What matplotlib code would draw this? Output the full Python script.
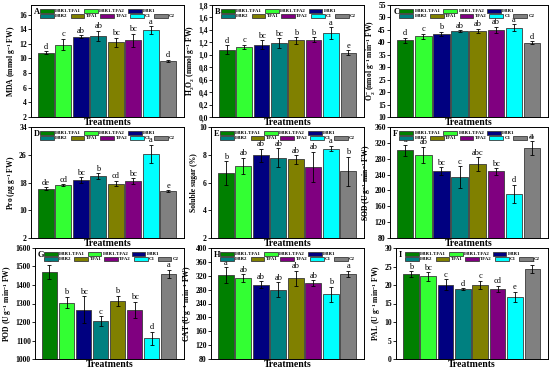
import numpy as np
import matplotlib
matplotlib.use('Agg')
import matplotlib.pyplot as plt

plt.rcParams['font.family'] = 'Liberation Serif'
plt.rcParams['font.weight'] = 'bold'
plt.rcParams['axes.labelweight'] = 'bold'
plt.rcParams['mathtext.fontset'] = 'custom'
plt.rcParams['mathtext.rm'] = 'Liberation Serif:bold'
plt.rcParams['mathtext.it'] = 'Liberation Serif:italic:bold'
plt.rcParams['mathtext.bf'] = 'Liberation Serif:bold'

treatments = ['EBR1-TFA1', 'EBR1-TFA2', 'EBR1', 'EBR2', 'TFA1', 'TFA2', 'C1', 'C2']
colors = ['#008000', '#33ff33', '#000080', '#008080', '#808000', '#800080', '#00ffff', '#808080']

# panel data: mean, error, letters
mda = [10.8, 11.9, 12.95, 13.1, 12.2, 12.5, 13.9, 9.65]
mda_err = [0.15, 0.8, 0.2, 0.7, 0.65, 0.9, 0.5, 0.15]
mda_sig = ['d', 'c', 'ab', 'ab', 'bc', 'bc', 'a', 'd']

h2o2 = [1.08, 1.13, 1.16, 1.19, 1.23, 1.24, 1.35, 1.035]
h2o2_err = [0.075, 0.035, 0.075, 0.08, 0.05, 0.04, 0.095, 0.04]
h2o2_sig = ['d', 'c', 'bc', 'bc', 'b', 'b', 'a', 'e']

o2 = [40.9, 42.4, 43.4, 44.5, 44.6, 44.9, 45.8, 39.9]
o2_err = [1.0, 1.1, 0.8, 0.3, 0.8, 1.3, 1.4, 0.5]
o2_sig = ['d', 'c', 'b', 'ab', 'ab', 'ab', 'a', 'd']

pro = [16.2, 17.2, 18.7, 19.9, 17.7, 18.5, 26.3, 15.6]
pro_err = [0.4, 0.3, 0.9, 0.8, 0.8, 0.8, 2.6, 0.2]
pro_sig = ['de', 'cd', 'bc', 'b', 'cd', 'bc', 'a', 'e']

sugar = [6.67, 7.18, 7.97, 7.78, 7.66, 7.13, 8.45, 6.8]
sugar_err = [0.85, 0.6, 0.47, 0.68, 0.3, 1.1, 0.2, 1.05]
sugar_sig = ['b', 'ab', 'ab', 'ab', 'ab', 'ab', 'a', 'b']

sod = [301, 289, 249, 233, 266, 248, 191, 307]
sod_err = [14, 21, 9, 28, 18, 8, 23, 18]
sod_sig = ['a', 'ab', 'bc', 'c', 'abc', 'bc', 'd', 'a']

pod = [1471, 1305, 1267, 1204, 1314, 1265, 1113, 1460]
pod_err = [38, 32, 72, 28, 28, 45, 35, 22]
pod_sig = ['a', 'b', 'bc', 'c', 'b', 'bc', 'd', 'a']

cat = [322, 313, 294, 280, 313, 299, 266, 326]
cat_err = [23, 11, 10, 21, 22, 8, 22, 9]
cat_sig = ['a', 'ab', 'ab', 'ab', 'ab', 'ab', 'b', 'a']

pal = [22.9, 22.3, 20.1, 18.9, 20.0, 19.0, 16.8, 24.4]
pal_err = [0.8, 1.2, 1.5, 0.3, 1.2, 0.8, 1.4, 1.1]
pal_sig = ['b', 'bc', 'c', 'd', 'c', 'cd', 'e', 'a']

panels = [
    ('A', mda, mda_err, mda_sig, r'MDA (mmol g$^{-1}$ FW)', (2, 17.3), np.arange(2, 17, 2), '%d'),
    ('B', h2o2, h2o2_err, h2o2_sig, r'H$_2$O$_2$ (mmol g$^{-1}$ FW)', (0, 1.8), np.arange(0, 1.81, 0.2), 'comma'),
    ('C', o2, o2_err, o2_sig, r'O$_2^{-}$ (nmol g$^{-1}$ min$^{-1}$ FW)', (10, 55), np.arange(10, 56, 5), '%d'),
    ('D', pro, pro_err, pro_sig, r'Pro ($\mu$g g$^{-1}$ FW)', (2, 34), np.arange(2, 35, 8), '%d'),
    ('E', sugar, sugar_err, sugar_sig, 'Soluble sugar (%)', (2, 10), np.arange(2, 11, 2), '%d'),
    ('F', sod, sod_err, sod_sig, r'SOD (U g$^{-1}$ min$^{-1}$ FW)', (80, 360), np.arange(80, 361, 40), '%d'),
    ('G', pod, pod_err, pod_sig, r'POD (U g$^{-1}$ min$^{-1}$ FW)', (1000, 1600), np.arange(1000, 1601, 100), '%d'),
    ('H', cat, cat_err, cat_sig, r'CAT (U g$^{-1}$ min$^{-1}$ FW)', (80, 400), np.arange(80, 401, 40), '%d'),
    ('I', pal, pal_err, pal_sig, r'PAL (U g$^{-1}$ min$^{-1}$ FW)', (0, 30), np.arange(0, 31, 5), '%d'),
]

W, H = 550, 371
fig = plt.figure(figsize=(5.5, 3.71), dpi=100)
lefts = [[31, 212, 390], [31, 211, 390], [35, 211, 396]]
rights = [184, 364, 548]
tops = [5, 127, 248]
bottoms = [117, 238, 359]

x = np.arange(len(treatments))
for k, (tag, vals, errs, sig, ylab, ylim, yt, fmt) in enumerate(panels):
    r, c = divmod(k, 3)
    L = lefts[r][c]
    ax = fig.add_axes([L / W, 1 - bottoms[r] / H,
                       (rights[c] - L) / W, (bottoms[r] - tops[r]) / H])
    bars = ax.bar(x, vals, width=0.9, color=colors, edgecolor='#3a3a3a', linewidth=0.6)
    ax.errorbar(x, vals, yerr=errs, fmt='none', ecolor='black', elinewidth=0.6,
                capsize=1.2, capthick=0.6)
    for xi, v, e, s in zip(x, vals, errs, sig):
        ax.annotate(s, (xi, v + e), xytext=(0, 0.3), textcoords='offset points',
                    ha='center', va='bottom', fontsize=6, fontweight='normal')
    ax.set_xlim(-0.85, 7.9)
    ax.set_ylim(*ylim)
    ax.set_yticks(yt)
    if fmt == 'comma':
        ax.set_yticklabels([('%.1f' % t).replace('.', ',') for t in yt])
    else:
        ax.set_yticklabels([fmt % t for t in yt])
    ax.set_xticks([])
    ax.tick_params(axis='y', labelsize=5.5, length=2, width=0.6, pad=1)
    for sp in ax.spines.values():
        sp.set_linewidth(0.7)
    ax.set_ylabel(ylab, fontsize=5.5, labelpad=1)
    ax.set_xlabel('Treatments', fontsize=7, labelpad=1)
    ax.text(0.02, 0.94, tag, transform=ax.transAxes, fontsize=6, va='center', ha='left')

    h = list(bars.patches)
    leg1 = ax.legend(h[:3], treatments[:3], ncol=3, loc='center left',
                     bbox_to_anchor=(0.06, 0.945), fontsize=3.5, frameon=False,
                     handlelength=2.8, handleheight=0.8, handletextpad=0.3,
                     columnspacing=0.6, borderpad=0, borderaxespad=0)
    ax.add_artist(leg1)
    ax.legend(h[3:], treatments[3:], ncol=5, loc='center left',
              bbox_to_anchor=(0.06, 0.90), fontsize=3.5, frameon=False,
              handlelength=2.8, handleheight=0.8, handletextpad=0.3,
              columnspacing=0.6, borderpad=0, borderaxespad=0)

fig.savefig('out.png', dpi=100)
plt.close(fig)
